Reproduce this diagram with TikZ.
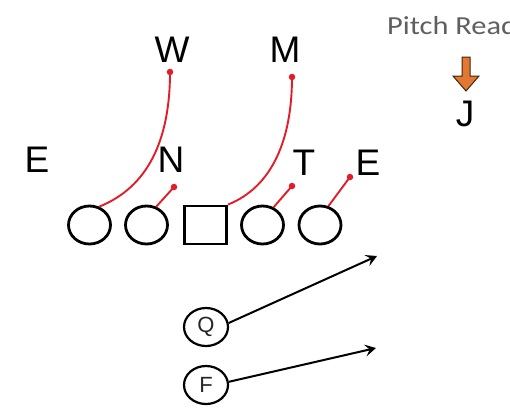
\documentclass[tikz,border=0pt]{standalone}
\usepackage{fontspec}
\setmainfont{Liberation Sans}
\newfontfamily\calib{Carlito}
\usetikzlibrary{arrows.meta,shapes.geometric}
\definecolor{redline}{RGB}{225,30,40}
\definecolor{orangefill}{RGB}{226,120,50}
\definecolor{pitchgray}{RGB}{95,95,95}
\tikzset{
  player/.style={draw=black, line width=2.8pt, ellipse, minimum width=42pt, minimum height=38pt, inner sep=0pt},
  center/.style={draw=black, line width=2.8pt, rectangle, minimum width=42pt, minimum height=38pt, inner sep=0pt},
  back/.style={draw=black, line width=2.2pt, ellipse, minimum width=44pt, minimum height=38pt, inner sep=0pt, font=\fontsize{22}{22}\selectfont, text=black!85},
  defl/.style={font=\fontsize{37}{37}\selectfont, inner sep=0pt},
  block/.style={draw=redline, line width=1.9pt},
  dot/.style={fill=redline, circle, inner sep=0pt, minimum size=6.5pt},
  route/.style={draw=black, line width=2pt, -{Stealth[length=11pt,width=12pt,inset=4.5pt]}},
}
\begin{document}
\begin{tikzpicture}[x=1pt,y=-1pt]
\useasboundingbox (0,0) rectangle (510,408);
\clip (0,0) rectangle (510,408);
\fill[white] (0,0) rectangle (510,408);
% offensive line
\node[player] (o1) at (89.5,225) {};
\node[player] (o2) at (146.5,225) {};
\node[center] (sq) at (205.5,225) {};
\node[player] (o3) at (262.5,225) {};
\node[player] (o4) at (320,225) {};
% backs
\node[back] (q) at (206,327) {Q};
\node[back] (f) at (206,385) {F};
% defenders
\node[defl] (el) at (37,160) {E};
\node[defl] (n) at (171,160) {N};
\node[defl] (t) at (304,163) {T};
\node[defl] (er) at (368,163) {E};
\node[defl] (w) at (172,50) {W};
\node[defl] (m) at (285,50) {M};
\node[defl] (j) at (465,114) {J};
% pitch read
\node[anchor=base west, inner sep=0pt, text=pitchgray, font=\calib\fontsize{26}{26}\selectfont] (pr) at (387,34) {\scalebox{1.17}[1]{Pitch Read}};
% orange block arrow
\filldraw[fill=orangefill, draw=black!70!orangefill, line width=1pt]
  (462,57) -- (470,57) -- (470,76) -- (479,76) -- (466,91) -- (453,76) -- (462,76) -- cycle;
% block coordinates
\coordinate (dw) at (170,72);
\coordinate (dm) at (292,77);
\coordinate (dn) at (174,187);
\coordinate (dt) at (292,186);
\coordinate (de) at (350,177);
% red blocks
\draw[block] (o1.62) .. controls (148,187) and (170,140) .. (dw);
\draw[block] (sq.north east) .. controls (272,187) and (292,140) .. (dm);
\draw[block] (o2.62) -- (dn);
\draw[block] (o3.58) -- (dt);
\draw[block] (o4.66) -- (de);
\foreach \d in {dw,dm,dn,dt,de} \node[dot] at (\d) {};
% routes
\coordinate (qa) at (377,256);
\coordinate (fa) at (376,348);
\draw[route] (q.10) -- (qa);
\draw[route] (f.8) -- (fa);
\end{tikzpicture}
\end{document}
